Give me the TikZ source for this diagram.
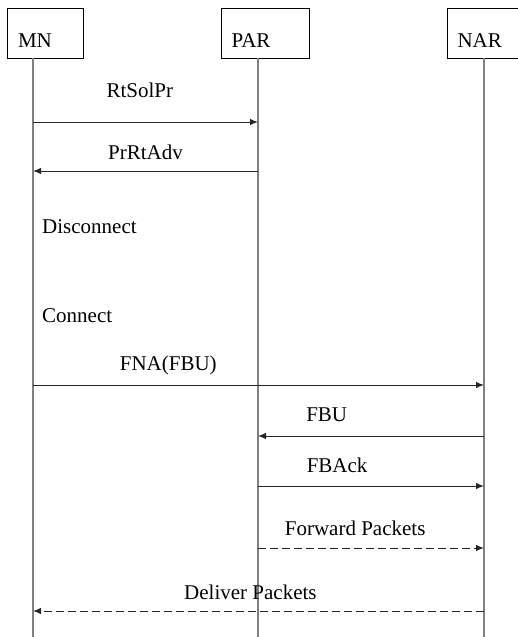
\documentclass[tikz,border=0pt]{standalone}
\usepackage{fontspec}
\setmainfont{Liberation Serif}
\usetikzlibrary{arrows.meta}

\tikzset{
    headbox/.style={draw, line width=0.9pt, inner xsep=10.5pt, inner ysep=10pt,
        minimum height=50pt, text height=28pt, text depth=0pt, align=left},
    lifeline/.style={draw=black!50, line width=1.4pt},
    msg/.style={->, draw=black!85, line width=1pt},
    msgdash/.style={msg, dash pattern=on 8pt off 4pt},
    msglabel/.style={font=\fontsize{21}{25}\selectfont, inner sep=0pt},
}

\begin{document}
\begin{tikzpicture}[>={Latex[length=8pt,width=6.5pt]}, x=1pt, y=-1pt,
    font=\fontsize{21}{25}\selectfont]
    \useasboundingbox (0,0) rectangle (518,637);

    % Các hộp thực thể
    \node[headbox, text width=54.5pt] (mn)  at (45.25,33) {MN};
    \node[headbox, text width=67pt]   (par) at (265,33)   {PAR};
    \node[headbox, text width=66pt]   (nar) at (490.5,33) {NAR};

    % Đường sống
    \coordinate (mntop)  at (33,58);
    \coordinate (partop) at (258,58);
    \coordinate (nartop) at (484,58);
    \coordinate (mnbot)  at (33,640);
    \coordinate (parbot) at (258,640);
    \coordinate (narbot) at (484,640);
    \draw[lifeline] (mntop) -- (mnbot);
    \draw[lifeline] (partop) -- (parbot);
    \draw[lifeline] (nartop) -- (narbot);

    % Các mốc trên đường sống
    \foreach \y [count=\i] in {122,171,385,436,486,548,611} {
        \coordinate (mn\i)  at (33,\y);
        \coordinate (par\i) at (258,\y);
        \coordinate (nar\i) at (484,\y);
    }

    % Các thông điệp
    \draw[msg] (mn1) -- (par1)
        node[msglabel, pos=0.475, yshift=32pt] (rtsol) {RtSolPr};
    \draw[msg] (par2) -- (mn2)
        node[msglabel, pos=0.5, yshift=19pt] (prrt) {PrRtAdv};
    \draw[msg] (mn3) -- (nar3)
        node[msglabel, pos=0.30, yshift=20pt] (fna) {FNA(FBU)};
    \draw[msg] (nar4) -- (par4)
        node[msglabel, pos=0.696, yshift=21pt] (fbu) {FBU};
    \draw[msg] (par5) -- (nar5)
        node[msglabel, pos=0.35, yshift=21pt] (fback) {FBAck};
    \draw[msgdash] (par6) -- (nar6)
        node[msglabel, pos=0.43, yshift=20pt] (fwd) {Forward Packets};
    \draw[msgdash] (nar7) -- (mn7)
        node[msglabel, pos=0.518, yshift=19pt] (dlv) {Deliver Packets};

    % Trạng thái của MN
    \node[msglabel, anchor=west] (disc) at (42,227) {Disconnect};
    \node[msglabel, anchor=west] (conn) at (42,316) {Connect};
\end{tikzpicture}
\end{document}
